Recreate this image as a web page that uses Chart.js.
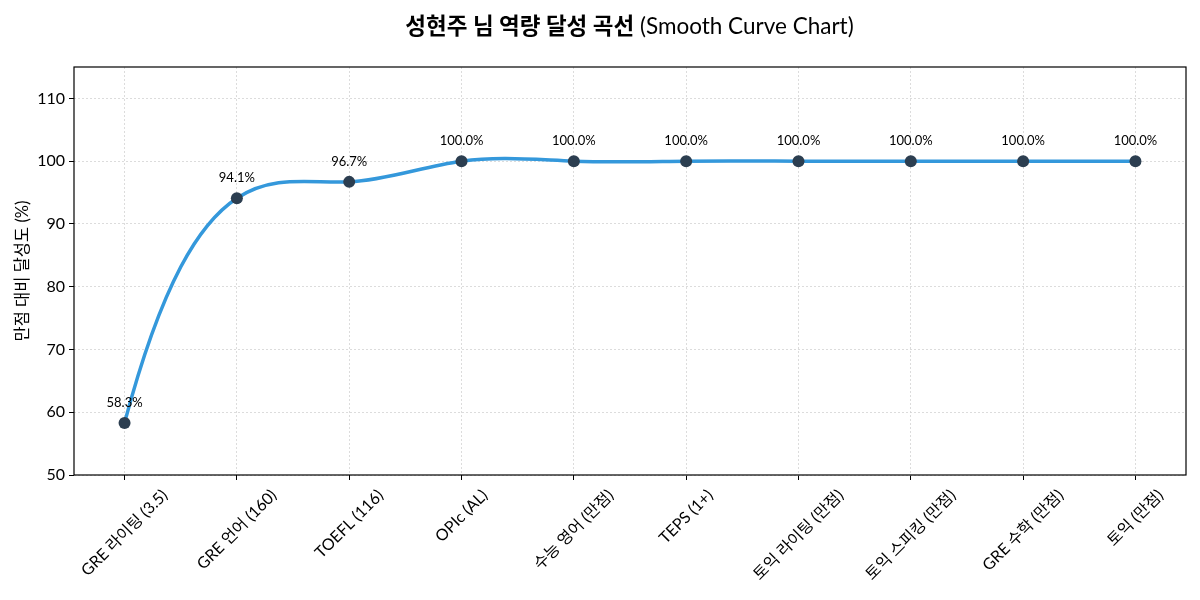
<!DOCTYPE html>
<html lang="ko">
<head>
<meta charset="utf-8">
<title>성현주 님 역량 달성 곡선</title>
<script src="https://cdn.jsdelivr.net/npm/chart.js@4"></script>
<style>
  html, body { margin: 0; padding: 0; background: #fff; }
  #wrap { position: relative; width: 1200px; height: 600px; }
  #title {
    position: absolute; top: 8px; left: 74px; width: 1111px;
    text-align: center; font-size: 22.5px; color: #000;
    font-family: Lato, "Noto Sans CJK KR", sans-serif;
  }
  #title b { font-weight: 700; }
  #title span { font-weight: 400; }
</style>
</head>
<body>
<div id="wrap">
  <div id="title"><b>성현주 님 역량 달성 곡선</b> <span>(Smooth Curve Chart)</span></div>
  <canvas id="graph" width="1200" height="600"></canvas>
</div>
<script>
const categories = ["GRE 라이팅 (3.5)", "GRE 언어 (160)", "TOEFL (116)", "OPIc (AL)", "수능 영어 (만점)",
	"TEPS (1+)", "토익 라이팅 (만점)", "토익 스피킹 (만점)", "GRE 수학 (만점)", "토익 (만점)"];
const achievement = [58.3, 94.1, 96.7, 100.0, 100.0, 100.0, 100.0, 100.0, 100.0, 100.0];
const yTicks = [50, 60, 70, 80, 90, 100, 110];

const fontFamily = 'Lato, "Noto Sans CJK KR", sans-serif';
Chart.defaults.font.family = fontFamily;
Chart.defaults.color = '#000';

// slopes of a not-a-knot cubic spline through the values (unit spacing)
function splineSlopes(y) {
	const n = y.length;
	const A = [];
	const b = [];
	for (let i = 0; i < n; i++) {
		A.push(new Array(n).fill(0));
		b.push(0);
	}
	A[0][0] = 1; A[0][1] = -2; A[0][2] = 1;
	A[n - 1][n - 3] = 1; A[n - 1][n - 2] = -2; A[n - 1][n - 1] = 1;
	for (let i = 1; i < n - 1; i++) {
		A[i][i - 1] = 1; A[i][i] = 4; A[i][i + 1] = 1;
		b[i] = 6 * (y[i - 1] - 2 * y[i] + y[i + 1]);
	}
	// gaussian elimination with pivoting
	for (let c = 0; c < n; c++) {
		let p = c;
		for (let r = c + 1; r < n; r++) if (Math.abs(A[r][c]) > Math.abs(A[p][c])) p = r;
		[A[c], A[p]] = [A[p], A[c]];
		[b[c], b[p]] = [b[p], b[c]];
		for (let r = c + 1; r < n; r++) {
			const f = A[r][c] / A[c][c];
			for (let k = c; k < n; k++) A[r][k] -= f * A[c][k];
			b[r] -= f * b[c];
		}
	}
	const M = new Array(n).fill(0);
	for (let r = n - 1; r >= 0; r--) {
		let s = b[r];
		for (let k = r + 1; k < n; k++) s -= A[r][k] * M[k];
		M[r] = s / A[r][r];
	}
	const m = [];
	for (let i = 0; i < n - 1; i++) m.push((y[i + 1] - y[i]) - (2 * M[i] + M[i + 1]) / 6);
	m.push((y[n - 1] - y[n - 2]) + (M[n - 2] + 2 * M[n - 1]) / 6);
	return m;
}
const slopes = splineSlopes(achievement);

// put the bezier handles where the spline wants them
const splineCurve = {
	id: 'splineCurve',
	beforeDatasetsDraw(chart) {
		const meta = chart.getDatasetMeta(0);
		const xs = chart.scales.x;
		const ys = chart.scales.y;
		meta.dataset.updateControlPoints(chart.chartArea, 'x');
		meta.data.forEach((pt, i) => {
			pt.cp1x = xs.getPixelForValue(i - 1 / 3);
			pt.cp1y = ys.getPixelForValue(achievement[i] - slopes[i] / 3);
			pt.cp2x = xs.getPixelForValue(i + 1 / 3);
			pt.cp2y = ys.getPixelForValue(achievement[i] + slopes[i] / 3);
		});
	}
};

// percent labels above every point
const pointLabels = {
	id: 'pointLabels',
	afterDatasetsDraw(chart) {
		const ctx = chart.ctx;
		const meta = chart.getDatasetMeta(0);
		ctx.save();
		ctx.font = '13px ' + fontFamily;
		ctx.fillStyle = '#000';
		ctx.textAlign = 'center';
		ctx.textBaseline = 'bottom';
		meta.data.forEach((pt, i) => {
			ctx.fillText(achievement[i].toFixed(1) + '%', pt.x, pt.y - 14);
		});
		ctx.restore();
	}
};

// rotated category labels, centred under their tick (box centre on the tick)
const xLabels = {
	id: 'xLabels',
	afterDraw(chart) {
		const ctx = chart.ctx;
		const xs = chart.scales.x;
		const top = xs.top + 12;
		const size = 16;
		ctx.save();
		ctx.font = size + 'px ' + fontFamily;
		ctx.fillStyle = '#000';
		ctx.textAlign = 'center';
		ctx.textBaseline = 'middle';
		categories.forEach((c, i) => {
			const w = ctx.measureText(c).width;
			const half = (w + size) / Math.SQRT2 / 2;
			ctx.save();
			ctx.translate(xs.getPixelForValue(i), top + half);
			ctx.rotate(-Math.PI / 4);
			ctx.fillText(c, 0, 0);
			ctx.restore();
		});
		ctx.restore();
	}
};

// black frame round the plot
const frame = {
	id: 'frame',
	afterDraw(chart) {
		const a = chart.chartArea;
		const ctx = chart.ctx;
		ctx.save();
		ctx.strokeStyle = '#000';
		ctx.lineWidth = 1.2;
		ctx.strokeRect(a.left, a.top, a.right - a.left, a.bottom - a.top);
		ctx.restore();
	}
};

const ctx = document.getElementById('graph').getContext('2d');

const myChart = new Chart(ctx, {
	type: 'line',
	data: {
		datasets: [{
			data: achievement.map((v, i) => ({x: i, y: v})),
			borderColor: '#3498db',
			borderWidth: 3.5,
			tension: 0.4,
			pointRadius: 6,
			pointBackgroundColor: '#2c3e50',
			pointBorderColor: '#2c3e50',
			pointBorderWidth: 0,
			clip: false
		}]
	},
	plugins: [splineCurve, pointLabels, xLabels, frame],
	options: {
		responsive: false,
		animation: false,
		layout: {
			padding: {top: 67, right: 14, bottom: 0, left: 0}
		},
		plugins: {
			legend: {display: false},
			tooltip: {enabled: false},
			title: {display: false}
		},
		scales: {
			x: {
				type: 'linear',
				min: -0.45,
				max: 9.45,
				afterBuildTicks(scale) {
					scale.ticks = categories.map((c, i) => ({value: i}));
				},
				afterFit(scale) {
					scale.height = 125;
				},
				ticks: {
					display: false
				},
				grid: {
					color: '#d4d4d4',
					lineWidth: 0.8,
					tickColor: '#000',
					tickLength: 5,
					tickWidth: 1,
					tickBorderDash: []
				},
				border: {display: false, dash: [2, 2]}
			},
			y: {
				min: 50,
				max: 115,
				afterBuildTicks(scale) {
					scale.ticks = yTicks.map(v => ({value: v}));
				},
				afterFit(scale) {
					scale.width = 74;
				},
				title: {
					display: true,
					text: '만점 대비 달성도 (%)',
					font: {size: 16.5},
					padding: {top: 13, bottom: 4}
				},
				ticks: {
					padding: 4,
					font: {size: 16}
				},
				grid: {
					color: '#d4d4d4',
					lineWidth: 0.8,
					tickColor: '#000',
					tickLength: 5,
					tickWidth: 1,
					tickBorderDash: []
				},
				border: {display: false, dash: [2, 2]}
			}
		}
	}
});
</script>
</body>
</html>
